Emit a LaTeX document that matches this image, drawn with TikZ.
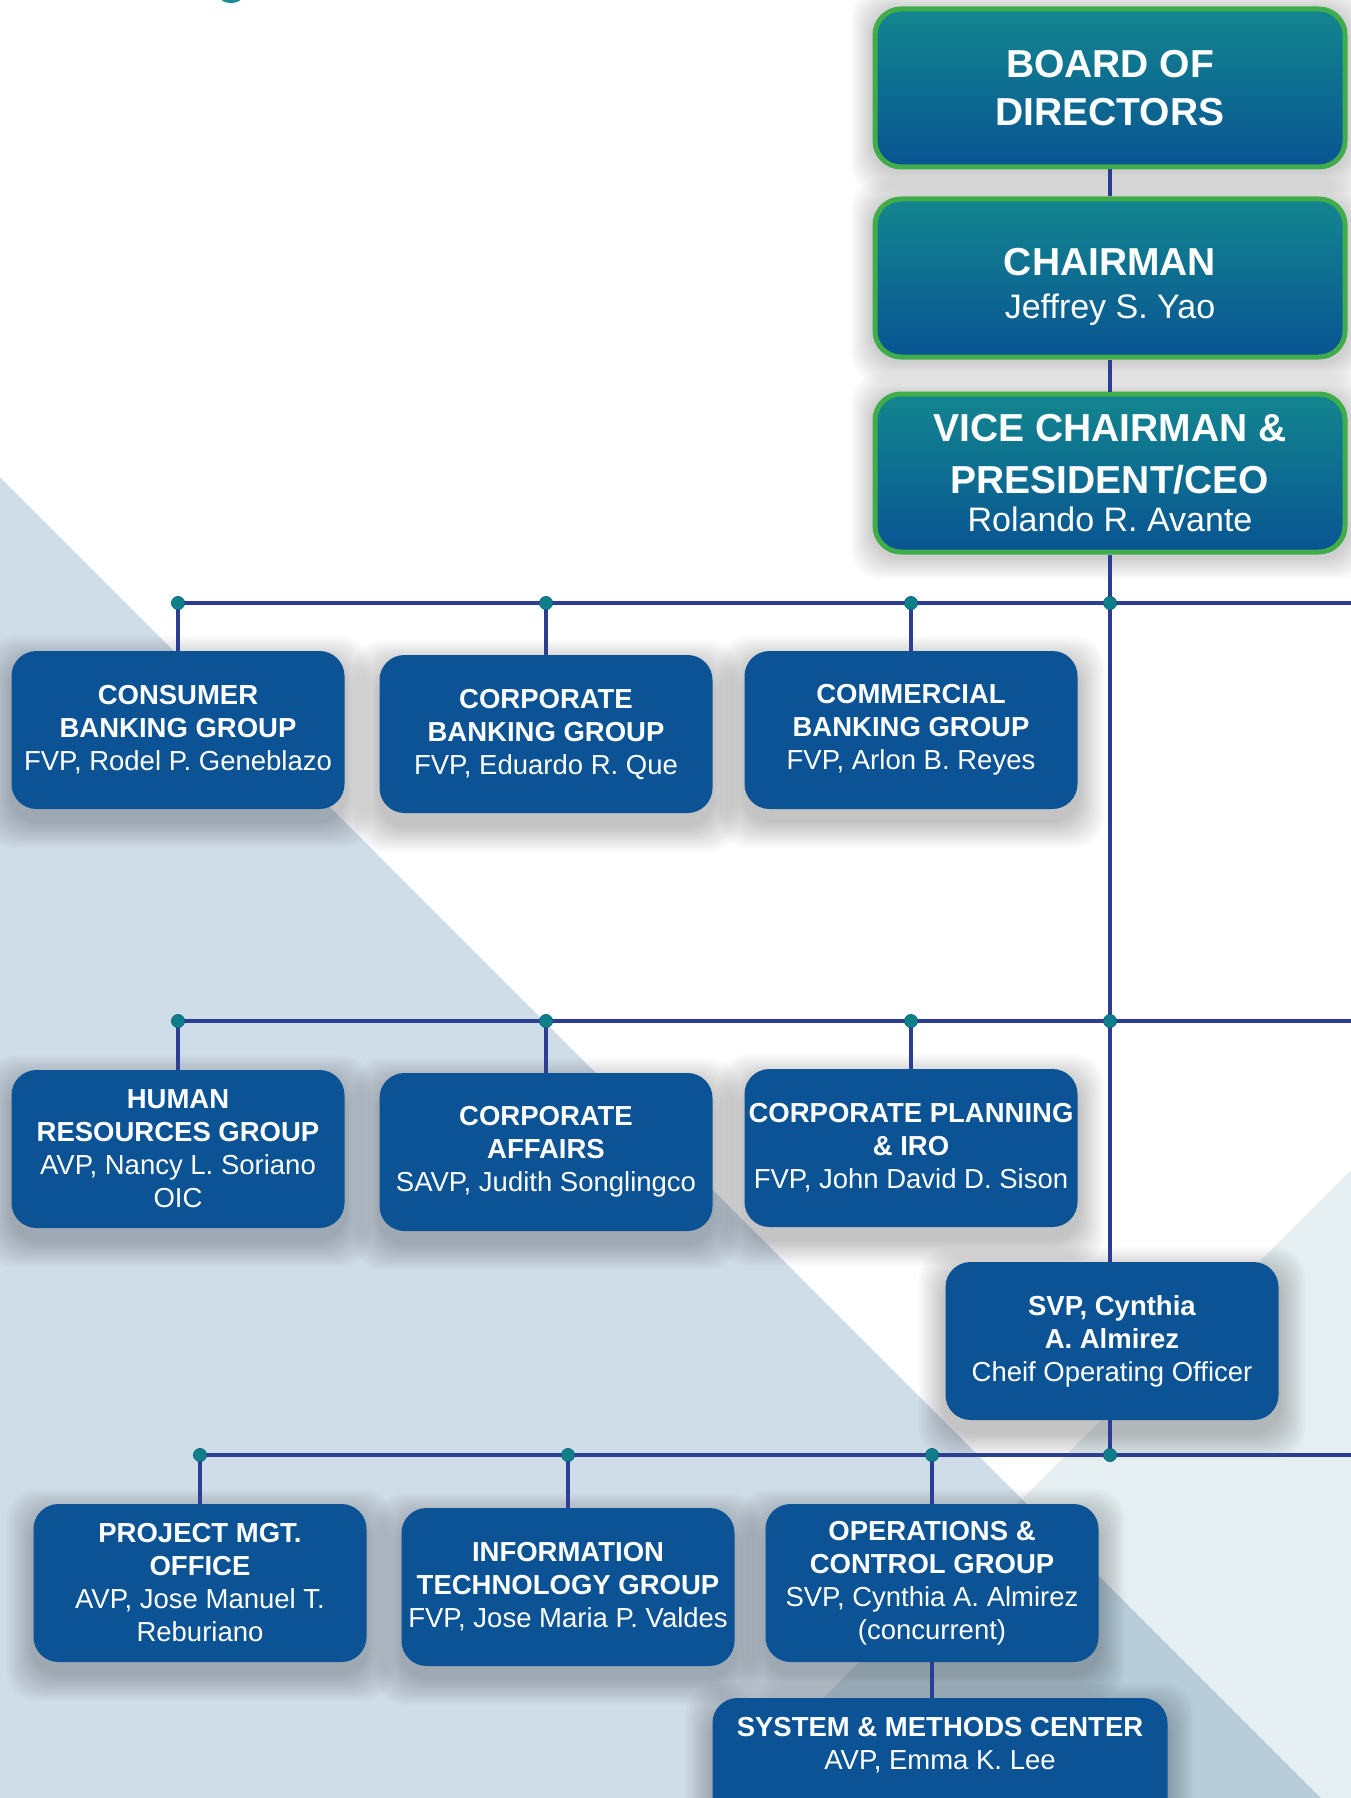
\documentclass[tikz,border=0pt]{standalone}
\usepackage{fontspec}
\setmainfont{Liberation Sans}

\definecolor{bgblue}{RGB}{207,221,233}
\definecolor{bgpale}{RGB}{229,239,242}
\definecolor{bgdeep}{RGB}{184,204,218}
\definecolor{boxblue}{RGB}{11,83,148}
\definecolor{linkblue}{RGB}{43,62,145}
\definecolor{dotteal}{RGB}{14,126,139}
\definecolor{dotedge}{RGB}{10,92,112}
\definecolor{framegreen}{RGB}{64,172,74}
\definecolor{headteal}{RGB}{19,134,143}
\definecolor{headblue}{RGB}{8,84,146}
\definecolor{titleteal}{RGB}{24,138,150}

\pgfdeclarelayer{panels}
\pgfdeclarelayer{shades}
\pgfsetlayers{panels,shades,main}

% soft drop shadow under a node: #1 node, #2 downward offset, #3 spread per step, #4 opacity per step
\newcommand\softshade[4]{%
  \foreach \k in {1,...,12}{%
    \fill[black, opacity=#4, rounded corners=30pt]
      ([xshift={-\k*#3*1pt}, yshift={-(\k*#3+#2)*1pt}]#1.south west) rectangle
      ([xshift={\k*#3*1pt}, yshift={(\k*#3-#2)*1pt}]#1.north east);
  }}

\begin{document}
\begin{tikzpicture}[x=1pt,y=-1pt,
  unitbox/.style={rectangle, rounded corners=25pt, fill=boxblue, text=white,
    align=center, inner sep=0pt, minimum width=333pt, minimum height=158pt,
    font=\fontsize{27.5}{33}\selectfont},
  headbox/.style={rectangle, rounded corners=26pt, draw=framegreen, line width=5pt,
    top color=headteal, bottom color=headblue, text=white, align=center,
    inner sep=0pt, minimum width=470pt, minimum height=158pt},
  link/.style={draw=linkblue, line width=3.5pt},
  jdot/.style={circle, fill=dotteal, draw=dotedge, line width=0.8pt,
    minimum size=13pt, inner sep=0pt},
]
\useasboundingbox (0,0) rectangle (1351,1798);

% background panels
\begin{pgfonlayer}{panels}
\fill[white] (0,0) rectangle (1351,1798);
\fill[bgblue] (0,477) -- (1022,1499) -- (723,1798) -- (0,1798) -- cycle;
\fill[bgpale] (1351,1170) -- (1022,1499) -- (1321,1798) -- (1351,1798) -- cycle;
\fill[bgdeep] (1022,1499) -- (1321,1798) -- (723,1798) -- cycle;
% descender of the page heading
\fill[titleteal] (231,-3) ellipse [x radius=11pt, y radius=6pt];
\end{pgfonlayer}

% top management
\node[headbox, font=\fontsize{39}{48}\selectfont\bfseries] (board) at (1110,88)
  {BOARD OF\\DIRECTORS};
\node[headbox, font=\fontsize{39}{43}\selectfont] (chair) at (1110,278)
  {\textbf{CHAIRMAN}\rule{0pt}{46pt}\\{\fontsize{34}{43}\selectfont Jeffrey S. Yao}};
\node[headbox, font=\fontsize{39}{52}\selectfont] (vc) at (1110,473)
  {\textbf{VICE CHAIRMAN \&}\\\textbf{PRESIDENT/CEO}\\[-14pt]{\fontsize{34}{52}\selectfont Rolando R. Avante}};

% first row of groups
\node[unitbox] (cbg) at (178,730)
  {\textbf{CONSUMER}\\\textbf{BANKING GROUP}\\FVP, Rodel P. Geneblazo};
\node[unitbox] (corpbg) at (546,734)
  {\textbf{CORPORATE}\\\textbf{BANKING GROUP}\\FVP, Eduardo R. Que};
\node[unitbox] (combg) at (911,730)
  {\textbf{COMMERCIAL}\\\textbf{BANKING GROUP}\\FVP, Arlon B. Reyes};

% second row of groups
\node[unitbox] (hrg) at (178,1149)
  {\textbf{HUMAN}\\\textbf{RESOURCES GROUP}\\AVP, Nancy L. Soriano\\OIC};
\node[unitbox] (caff) at (546,1152)
  {\textbf{CORPORATE}\\\textbf{AFFAIRS}\\SAVP, Judith Songlingco};
\node[unitbox] (cpiro) at (911,1148)
  {\textbf{CORPORATE PLANNING}\\\textbf{\& IRO}\\FVP, John David D. Sison};

% chief operating officer
\node[unitbox] (coo) at (1112,1341)
  {\textbf{SVP, Cynthia}\\\textbf{A. Almirez}\\Cheif Operating Officer};

% third row of groups
\node[unitbox] (pmo) at (200,1583)
  {\textbf{PROJECT MGT.}\\\textbf{OFFICE}\\AVP, Jose Manuel T.\\Reburiano};
\node[unitbox] (itg) at (568,1587)
  {\textbf{INFORMATION}\\\textbf{TECHNOLOGY GROUP}\\FVP, Jose Maria P. Valdes};
\node[unitbox] (ocg) at (932,1583)
  {\textbf{OPERATIONS \&}\\\textbf{CONTROL GROUP}\\SVP, Cynthia A. Almirez\\(concurrent)};

% system & methods center, running off the page bottom
\node[unitbox, minimum width=455pt, minimum height=140pt] (smcbox) at (940,1768) {};
\node[text=white, align=center, inner sep=0pt, font=\fontsize{27.5}{33}\selectfont]
  (smc) at (940,1745) {\textbf{SYSTEM \& METHODS CENTER}\\AVP, Emma K. Lee};

% shadows beneath the boxes
\begin{pgfonlayer}{shades}
\foreach \n in {board,chair,vc}{\softshade{\n}{3}{1.8}{0.016}}
\foreach \n in {cbg,corpbg,combg,hrg,caff,cpiro,coo,pmo,itg,ocg,smcbox}{\softshade{\n}{12}{2.2}{0.021}}
\end{pgfonlayer}

% junctions
\coordinate (r1end) at (1351,603);
\coordinate (r2end) at (1351,1021);
\coordinate (r3end) at (1351,1455);
\node[jdot] (j11) at (178,603) {};
\node[jdot] (j12) at (546,603) {};
\node[jdot] (j13) at (911,603) {};
\node[jdot] (j14) at (1110,603) {};
\node[jdot] (j21) at (178,1021) {};
\node[jdot] (j22) at (546,1021) {};
\node[jdot] (j23) at (911,1021) {};
\node[jdot] (j24) at (1110,1021) {};
\node[jdot] (j31) at (200,1455) {};
\node[jdot] (j32) at (568,1455) {};
\node[jdot] (j33) at (932,1455) {};
\node[jdot] (j34) at (1110,1455) {};

% connectors
\draw[link] (board.south) -- (chair.north);
\draw[link] (chair.south) -- (vc.north);
\draw[link] (vc.south) -- (j14.center) -- (j24.center) -- (coo.north -| j24.center);
\draw[link] (coo.south -| j34.center) -- (j34.center);
\draw[link] (j11.center) -- (r1end);
\draw[link] (j21.center) -- (r2end);
\draw[link] (j31.center) -- (r3end);
\draw[link] (j11.center) -- (cbg.north);
\draw[link] (j12.center) -- (corpbg.north);
\draw[link] (j13.center) -- (combg.north);
\draw[link] (j21.center) -- (hrg.north);
\draw[link] (j22.center) -- (caff.north);
\draw[link] (j23.center) -- (cpiro.north);
\draw[link] (j31.center) -- (pmo.north);
\draw[link] (j32.center) -- (itg.north);
\draw[link] (j33.center) -- (ocg.north);
\draw[link] (ocg.south) -- (ocg.south |- smcbox.north);

% junction dots drawn over the lines
\foreach \j in {j11,j12,j13,j14,j21,j22,j23,j24,j31,j32,j33,j34}
  \fill[dotteal] (\j) circle (6.5pt);
\end{tikzpicture}
\end{document}
